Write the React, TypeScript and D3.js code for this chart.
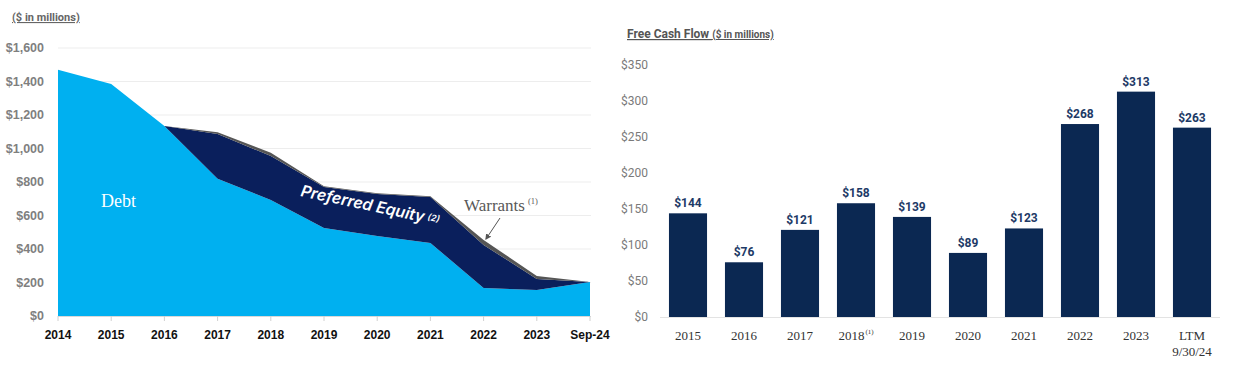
import * as d3 from "d3";

// Capital structure (left)
const years = ["2014", "2015", "2016", "2017", "2018", "2019", "2020", "2021", "2022", "2023", "Sep-24"];
const debt = [1470, 1385, 1135, 820, 693, 525, 478, 436, 167, 155, 203];
const preferred = [0, 0, 0, 267, 262, 245, 250, 274, 257, 66, 0];
const warrants = [0, 0, 0, 10, 20, 5, 5, 5, 30, 18, 0];
const leftTicks = [0, 200, 400, 600, 800, 1000, 1200, 1400, 1600];

// Free cash flow (right)
const fcfLabels = ["2015", "2016", "2017", "2018", "2019", "2020", "2021", "2022", "2023", "LTM"];
const fcfValues = [144, 76, 121, 158, 139, 89, 123, 268, 313, 263];
const rightTicks = [0, 50, 100, 150, 200, 250, 300, 350];

const sans = "Roboto, 'Liberation Sans', Arial, sans-serif";
const arial = "'Liberation Sans', Arial, sans-serif";
const serif = "'Liberation Serif', 'Times New Roman', serif";

const App = () => {
  // ---- left chart scales
  const x = d3.scalePoint<string>().domain(years).range([58, 590]);
  const y = d3.scaleLinear().domain([0, 1600]).range([316, 48]);

  const rows = years.map((yr, i) => ({
    year: yr,
    debt: debt[i],
    preferred: preferred[i],
    warrants: warrants[i],
  }));
  const series = d3.stack<any>().keys(["debt", "preferred", "warrants"])(rows);
  const area = d3
    .area<any>()
    .x((d) => x(d.data.year)!)
    .y0((d) => y(d[0]))
    .y1((d) => y(d[1]));
  const colors: Record<string, string> = {
    debt: "#00b0f0",
    preferred: "#0a1f5c",
    warrants: "#555555",
  };

  // ---- right chart scales
  const xb = d3
    .scaleBand<string>()
    .domain(fcfLabels)
    .range([660, 1220])
    .paddingInner(0.32)
    .paddingOuter(0.16);
  const yb = d3.scaleLinear().domain([0, 350]).range([317, 65]);

  return (
    <svg
      width={1256}
      height={369}
      style={{ position: "absolute", left: 0, top: 0, background: "#fff" }}
    >
      <defs>
        <marker id="arr" viewBox="0 0 10 10" refX="8" refY="5" markerWidth="6" markerHeight="6" orient="auto">
          <path d="M0,0 L10,5 L0,10 z" fill="#555" />
        </marker>
      </defs>

      {/* ===== Left chart ===== */}
      <text x={12} y={21} fontFamily={sans} fontSize={11} fontWeight={700} fill="#666" textDecoration="underline">
        ($ in millions)
      </text>
      {leftTicks.map((t) => (
        <g key={t}>
          {t > 0 && <line x1={58} x2={591} y1={y(t)} y2={y(t)} stroke="#ededed" strokeWidth={1} />}
          <text x={44} y={y(t)} dy="0.35em" textAnchor="end" fontFamily={arial} fontSize={12.5} fontWeight={700} fill="#7f7f7f">
            {d3.format("$,")(t)}
          </text>
        </g>
      ))}
      {series.map((s) => (
        <path key={s.key} d={area(s) || ""} fill={colors[s.key]} />
      ))}
      <line x1={58} x2={591} y1={316.5} y2={316.5} stroke="#d9d9d9" />
      {years.map((yr) => (
        <g key={yr}>
          <line x1={x(yr)} x2={x(yr)} y1={316} y2={321} stroke="#d0d0d0" />
          <text x={x(yr)} y={339} textAnchor="middle" fontFamily={arial} fontSize={12} fontWeight={700} fill="#111">
            {yr}
          </text>
        </g>
      ))}
      <text x={101} y={207} fontFamily={serif} fontSize={18} fill="#fff">
        Debt
      </text>
      <g transform="rotate(12, 300, 196)">
        <text x={300} y={196} fontFamily="Inter, sans-serif" fontSize={16} fontWeight={600} fontStyle="italic" fill="#fff">
          Preferred Equity
          <tspan fontSize={9} dx={3} dy={-3}>(2)</tspan>
        </text>
      </g>
      <text x={464} y={211} fontFamily={serif} fontSize={17} fill="#595959">
        Warrants
        <tspan fontSize={8.5} dx={3} dy={-7}>(1)</tspan>
      </text>
      <line x1={500} y1={218} x2={486} y2={239} stroke="#555" strokeWidth={1} markerEnd="url(#arr)" />

      {/* ===== Right chart ===== */}
      <text x={627} y={38} fontFamily={sans} fontWeight={700} fill="#555" textDecoration="underline">
        <tspan fontSize={12}>Free Cash Flow </tspan>
        <tspan fontSize={10}>($ in millions)</tspan>
      </text>
      {rightTicks.map((t) => (
        <text key={t} x={648} y={yb(t)} dy="0.35em" textAnchor="end" fontFamily={sans} fontSize={12} fill="#7a7a7a">
          {"$" + t}
        </text>
      ))}
      <line x1={660} x2={1220} y1={317.5} y2={317.5} stroke="#e3e3e3" />
      {fcfLabels.map((c, i) => (
        <g key={c}>
          <rect x={xb(c)} y={yb(fcfValues[i])} width={xb.bandwidth()} height={317 - yb(fcfValues[i])} fill="#0b2852" />
          <text
            x={xb(c)! + xb.bandwidth() / 2}
            y={yb(fcfValues[i]) - 6}
            textAnchor="middle"
            fontFamily={sans}
            fontSize={12}
            fontWeight={700}
            fill="#1d3a66"
          >
            {"$" + fcfValues[i]}
          </text>
          <text x={xb(c)! + xb.bandwidth() / 2} y={340} textAnchor="middle" fontFamily={serif} fontSize={13} fill="#333">
            {c}
            {c === "2018" && (
              <tspan fontSize={7} dx={1} dy={-6}>
                (1)
              </tspan>
            )}
          </text>
          {c === "LTM" && (
            <text x={xb(c)! + xb.bandwidth() / 2} y={356} textAnchor="middle" fontFamily={serif} fontSize={13} fill="#333">
              9/30/24
            </text>
          )}
        </g>
      ))}
    </svg>
  );
};

export default App;
